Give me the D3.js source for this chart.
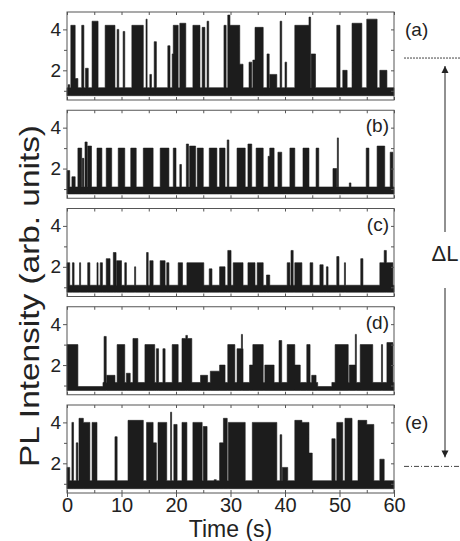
<!DOCTYPE html>
<html>
<head>
<meta charset="utf-8">
<script src="https://cdn.jsdelivr.net/npm/d3@7"></script>
<style>
  body { margin: 0; background: #fff; }
  text { font-family: "Liberation Sans", Arial, Helvetica, sans-serif; fill: #222; }
  .axis path, .axis line { stroke: #555; }
</style>
</head>
<body>
<svg id="chart" width="460" height="541"></svg>
<script>
const timeTicks = [0, 10, 20, 30, 40, 50, 60];
const timeMinor = [5, 15, 25, 35, 45, 55];
const intensityTicks = [2, 4];
const intensityMinor = [1, 3];
const panelLabels = ['(a)', '(b)', '(c)', '(d)', '(e)'];

// on-periods: [start (s), end (s), intensity]
const burstsA = [
  [0.2, 0.5, 1.3], [0.7, 1.5, 4.2], [1.5, 2.0, 1.6], [2.7, 3.1, 4.2], [3.4, 3.9, 2.1],
  [4.6, 5.7, 4.4], [7.0, 8.8, 4.2], [9.2, 9.5, 4.0], [10.3, 10.6, 3.9], [11.9, 14.0, 4.2],
  [14.5, 14.7, 4.5], [15.2, 15.5, 1.8], [16.0, 16.4, 3.4], [18.5, 18.9, 3.2], [19.3, 19.5, 2.8],
  [19.5, 20.4, 4.2], [20.7, 21.8, 4.3], [23.1, 24.4, 4.2], [24.8, 25.3, 4.1], [25.7, 26.0, 4.4],
  [28.8, 29.2, 4.2], [29.5, 29.9, 4.7], [29.9, 31.7, 4.2], [31.7, 32.3, 2.3], [33.4, 33.9, 2.4],
  [34.1, 34.5, 2.5], [34.5, 36.0, 4.1], [36.7, 37.1, 2.8], [37.2, 38.5, 1.8], [39.1, 39.4, 4.4],
  [40.0, 40.3, 2.4], [41.8, 44.4, 4.2], [44.4, 44.7, 4.6], [44.8, 45.6, 2.8], [49.5, 50.1, 4.2],
  [50.6, 51.4, 2.0], [52.3, 54.1, 4.3], [55.0, 56.9, 4.5], [57.4, 58.7, 2.0]
];
const burstsB = [
  [0.0, 0.5, 1.9], [0.9, 1.5, 1.6], [2.0, 2.7, 3.0], [2.8, 3.1, 2.5], [3.3, 3.7, 3.3],
  [3.8, 4.5, 3.1], [5.5, 6.4, 3.0], [7.2, 8.2, 3.0], [9.4, 10.6, 3.0], [11.7, 12.7, 3.0],
  [14.0, 15.8, 3.0], [17.1, 18.7, 3.0], [19.5, 20.0, 3.0], [20.7, 21.0, 2.2], [21.9, 22.3, 3.2],
  [22.5, 23.6, 3.1], [23.9, 25.0, 3.0], [26.1, 27.5, 3.0], [28.0, 29.0, 3.0], [29.4, 29.7, 3.4],
  [31.2, 32.7, 3.0], [33.2, 33.9, 3.2], [34.7, 36.0, 3.0], [36.9, 37.2, 2.6], [37.2, 38.0, 3.0],
  [38.7, 39.4, 2.8], [40.9, 41.8, 3.0], [43.3, 44.4, 3.0], [45.7, 46.2, 3.0], [48.8, 49.5, 2.0],
  [49.6, 49.8, 3.5], [51.8, 52.1, 1.3], [54.9, 55.4, 3.0], [56.9, 58.3, 3.1], [59.3, 59.8, 2.8]
];
const burstsC = [
  [0.0, 0.5, 2.2], [1.0, 1.3, 2.2], [2.3, 2.5, 2.2], [3.8, 4.2, 2.2], [5.5, 5.7, 2.2],
  [6.1, 6.5, 2.2], [7.2, 7.9, 2.4], [8.5, 9.0, 2.7], [9.1, 10.0, 2.3], [10.6, 10.9, 2.2],
  [12.4, 12.6, 2.0], [14.6, 14.9, 2.7], [15.2, 15.8, 2.3], [17.1, 18.0, 2.3], [18.3, 18.7, 2.2],
  [20.4, 21.2, 2.2], [22.0, 25.1, 2.2], [26.1, 26.6, 1.9], [28.0, 29.0, 2.0], [29.5, 30.1, 2.8],
  [30.5, 32.3, 2.2], [33.2, 34.5, 2.2], [34.9, 36.0, 2.2], [36.6, 37.2, 1.6], [40.4, 40.9, 2.2],
  [41.1, 41.5, 2.8], [41.8, 43.1, 2.2], [44.6, 45.1, 2.2], [46.4, 47.0, 2.1], [47.6, 47.9, 2.0],
  [49.5, 49.9, 2.5], [50.9, 51.1, 2.2], [53.9, 54.3, 2.4], [57.4, 58.2, 2.2], [58.2, 58.6, 2.8],
  [58.6, 59.8, 2.2]
];
const burstsD = [
  [0.0, 2.0, 3.0], [6.8, 7.2, 3.4], [7.3, 8.8, 1.5], [9.2, 10.6, 3.0], [10.9, 11.6, 1.6],
  [12.1, 13.0, 3.3], [14.3, 16.1, 3.0], [16.4, 16.8, 2.8], [17.6, 18.0, 2.8], [19.3, 20.4, 3.0],
  [21.1, 22.9, 3.3], [21.8, 22.1, 3.45], [24.5, 25.8, 1.5], [26.3, 28.0, 1.7], [28.0, 29.0, 2.0],
  [29.5, 30.8, 3.0], [31.2, 32.3, 2.8], [32.0, 32.2, 3.5], [33.5, 34.1, 2.0], [34.1, 36.0, 3.0],
  [36.3, 38.0, 2.0], [38.9, 39.4, 3.2], [40.4, 41.8, 3.0], [41.8, 42.8, 2.0], [44.0, 44.6, 3.0],
  [44.9, 45.7, 1.5], [49.2, 51.6, 3.0], [51.8, 52.9, 2.0], [52.9, 53.1, 3.5], [53.8, 56.1, 3.0],
  [57.7, 57.9, 3.0], [58.7, 59.8, 3.1]
];
const burstsE = [
  [0.0, 0.5, 1.8], [0.9, 1.2, 4.0], [1.7, 2.0, 3.0], [2.2, 3.0, 4.2], [3.0, 4.2, 4.0],
  [4.6, 5.5, 4.0], [8.8, 9.2, 3.3], [11.2, 14.0, 4.1], [14.6, 15.8, 4.0], [15.8, 16.4, 3.0],
  [16.7, 18.3, 4.0], [19.0, 19.2, 4.5], [19.6, 20.2, 3.9], [21.1, 22.0, 4.0], [23.1, 24.8, 4.0],
  [25.0, 25.7, 3.8], [27.0, 27.4, 1.2], [28.0, 28.7, 3.0], [28.7, 29.4, 4.2], [29.6, 32.7, 4.0],
  [34.0, 38.5, 4.0], [39.1, 39.4, 3.4], [39.5, 40.5, 1.8], [41.8, 43.1, 4.1], [43.1, 44.4, 4.0],
  [44.4, 45.0, 2.5], [48.6, 49.2, 3.2], [49.5, 50.6, 4.0], [51.0, 52.3, 4.2], [53.4, 55.0, 4.1],
  [55.0, 56.3, 3.9], [57.4, 58.2, 2.2]
];
// off-state (background) level per trace, and quieter stretches of trace (d)
const offLevels = [1.15, 1.1, 1.1, 1.15, 1.15];
const quietD = [[2.0, 6.6, 0.95], [46.0, 48.6, 0.95]];
const floorLevel = 0.76;
// levels marked on the right: off-to-on step in (a), and in (e)
const levelRefA = 2.6;
const levelRefE = 1.85;

const panels = [burstsA, burstsB, burstsC, burstsD, burstsE];
const quiet = [[], [], [], quietD, []];

const svg = d3.select('#chart');
const left = 67, right = 394;
const panelTop = 12, panelStep = 98.25, panelH = 88;

const x = d3.scaleLinear().domain([0, 60]).range([left, right]);

// turn burst list into a step trace
function trace(bursts, off, dips) {
  const edges = new Set([0, 60]);
  bursts.forEach(b => { edges.add(b[0]); edges.add(b[1]); });
  dips.forEach(d => { edges.add(d[0]); edges.add(d[1]); });
  const ts = Array.from(edges).sort((a, b) => a - b);
  return ts.map((t, i) => {
    const mid = i < ts.length - 1 ? (t + ts[i + 1]) / 2 : t;
    let v = off;
    dips.forEach(d => { if (mid > d[0] && mid < d[1]) v = d[2]; });
    bursts.forEach(b => { if (mid > b[0] && mid < b[1]) v = Math.max(v, b[2]); });
    return [t, v];
  });
}

const yScales = [];

panels.forEach((bursts, i) => {
  const top = panelTop + i * panelStep;
  const y = d3.scaleLinear().domain([0.55, 4.85]).range([top + panelH, top]);
  yScales.push(y);
  const g = svg.append('g');

  const area = d3.area()
    .x(d => x(d[0]))
    .y0(y(floorLevel))
    .y1(d => y(d[1]))
    .curve(d3.curveStepAfter);

  g.append('path')
    .datum(trace(bursts, offLevels[i], quiet[i]))
    .attr('d', area)
    .attr('fill', '#1c1c1c')
    .attr('stroke', '#1c1c1c')
    .attr('stroke-width', 0.6);

  // frame
  g.append('rect')
    .attr('x', left).attr('y', top)
    .attr('width', right - left).attr('height', panelH)
    .attr('fill', 'none').attr('stroke', '#555').attr('stroke-width', 1);

  // left axis
  g.append('g').attr('class', 'axis')
    .attr('transform', `translate(${left},0)`)
    .call(d3.axisLeft(y).tickValues(intensityTicks).tickSize(4).tickPadding(2).tickFormat(d3.format('d')))
    .call(s => s.select('.domain').remove())
    .selectAll('text').style('font-size', '19px').attr('fill', '#222');
  g.append('g').attr('class', 'axis')
    .attr('transform', `translate(${left},0)`)
    .call(d3.axisLeft(y).tickValues(intensityMinor).tickSize(3).tickFormat(''))
    .call(s => s.select('.domain').remove());

  // right axis, inward ticks
  g.append('g').attr('class', 'axis')
    .attr('transform', `translate(${right},0)`)
    .call(d3.axisRight(y).tickValues([1, 2, 3, 4]).tickSize(-3).tickFormat(''))
    .call(s => s.select('.domain').remove());

  // top and bottom, inward ticks
  g.append('g').attr('class', 'axis')
    .attr('transform', `translate(0,${top})`)
    .call(d3.axisTop(x).tickValues(timeTicks.concat(timeMinor)).tickSize(-3).tickFormat(''))
    .call(s => s.select('.domain').remove());
  g.append('g').attr('class', 'axis')
    .attr('transform', `translate(0,${top + panelH})`)
    .call(d3.axisBottom(x).tickValues(timeTicks.concat(timeMinor)).tickSize(-3).tickFormat(''))
    .call(s => s.select('.domain').remove());

  // panel label
  const outside = i === 0 || i === 4;
  g.append('text')
    .attr('x', outside ? right + 11 : right - 5)
    .attr('y', top + (outside ? 24 : 22))
    .attr('text-anchor', outside ? 'start' : 'end')
    .style('font-size', '19px')
    .text(panelLabels[i]);
});

// time axis under the last panel
const lastBottom = panelTop + 4 * panelStep + panelH;
svg.append('g').attr('class', 'axis')
  .attr('transform', `translate(0,${lastBottom})`)
  .call(d3.axisBottom(x).tickValues(timeTicks).tickSize(4).tickPadding(1))
  .call(s => s.select('.domain').remove())
  .selectAll('text').style('font-size', '20px').attr('fill', '#222');

svg.append('text')
  .attr('x', (left + right) / 2)
  .attr('y', 537)
  .attr('text-anchor', 'middle')
  .style('font-size', '23px')
  .text('Time (s)');

svg.append('text')
  .attr('transform', `translate(39,${296}) rotate(-90)`)
  .attr('text-anchor', 'middle')
  .attr('textLength', 342)
  .attr('lengthAdjust', 'spacingAndGlyphs')
  .style('font-size', '28px')
  .text('PL Intensity (arb. units)');

// level markers and the delta-L arrow
const yA = yScales[0](levelRefA);
const yE = yScales[4](levelRefE);
svg.append('line')
  .attr('x1', 404).attr('x2', 460).attr('y1', yA).attr('y2', yA)
  .attr('stroke', '#444').attr('stroke-width', 1).attr('stroke-dasharray', '2,1');
svg.append('line')
  .attr('x1', 404).attr('x2', 460).attr('y1', yE).attr('y2', yE)
  .attr('stroke', '#444').attr('stroke-width', 1).attr('stroke-dasharray', '5,2,1,2');

const defs = svg.append('defs');
defs.append('marker')
  .attr('id', 'head')
  .attr('viewBox', '0 0 10 10')
  .attr('refX', 10).attr('refY', 5)
  .attr('markerWidth', 7).attr('markerHeight', 9)
  .attr('markerUnits', 'userSpaceOnUse')
  .attr('orient', 'auto')
  .append('path')
  .attr('d', 'M0,0 L10,5 L0,10 Z')
  .attr('fill', '#222');

const arrowX = 445;
svg.append('line')
  .attr('x1', arrowX).attr('x2', arrowX).attr('y1', 232).attr('y2', yA + 8)
  .attr('stroke', '#222').attr('stroke-width', 1).attr('marker-end', 'url(#head)');
svg.append('line')
  .attr('x1', arrowX).attr('x2', arrowX).attr('y1', 288).attr('y2', yE - 9)
  .attr('stroke', '#222').attr('stroke-width', 1).attr('marker-end', 'url(#head)');

svg.append('text')
  .attr('x', arrowX)
  .attr('y', 261)
  .attr('text-anchor', 'middle')
  .style('font-size', '22px')
  .text('ΔL');
</script>
</body>
</html>
